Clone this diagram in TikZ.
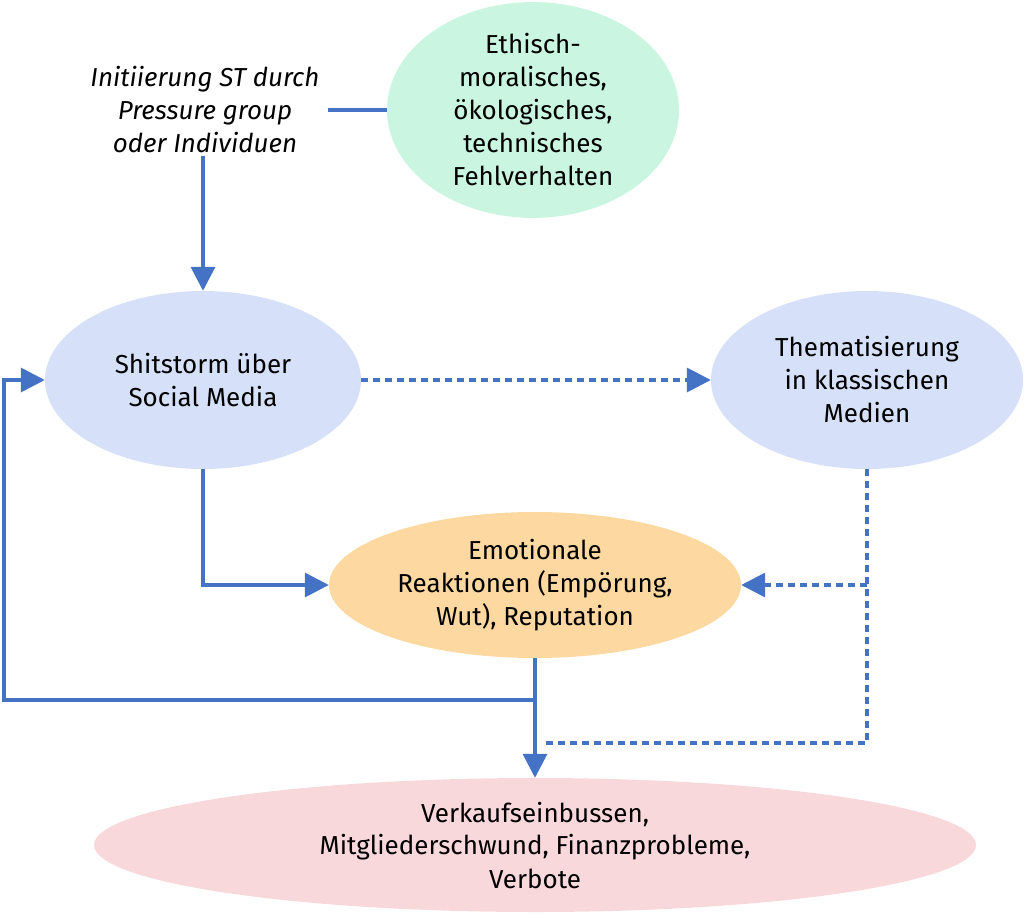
\documentclass[tikz,border=0pt]{standalone}
\usepackage{fontspec}
\setmainfont{Fira Sans}
\usetikzlibrary{shapes.geometric,arrows.meta}
\definecolor{linieblau}{HTML}{4472C4}
\definecolor{gruen}{HTML}{C9F5E1}
\definecolor{hellblau}{HTML}{D6E1F9}
\definecolor{orange}{HTML}{FDD8A0}
\definecolor{rosa}{HTML}{F9D8DB}
\tikzset{ %styles for the shitstorm chart
  blase/.style={ellipse,inner sep=0pt,align=center,
    font=\fontsize{26}{33}\selectfont},
  pfeil/.style={draw=linieblau,line width=3.5pt,
    -{Triangle[length=24pt,width=24pt]}},
  linie/.style={draw=linieblau,line width=3.5pt},
  gestrichelt/.style={dash pattern=on 7pt off 5pt}
}

\begin{document}
\begin{tikzpicture}[x=1pt,y=-1pt] % pixel coordinates, y downwards
\useasboundingbox (0,0) rectangle (1024,913);

\node[blase,fill=gruen,minimum width=292,minimum height=192] (ethik) at (533,110)
      {Ethisch-\\moralisches,\\ökologisches,\\technisches\\Fehlverhalten};
\node[align=center,font=\fontsize{26}{33}\selectfont\itshape,inner xsep=8pt,inner ysep=3pt] (init) at (205,110)
      {Initiierung ST durch\\Pressure group\\oder Individuen};
\node[blase,fill=hellblau,minimum width=316,minimum height=178] (shit) at (203,380)
      {Shitstorm über\\Social Media};
\node[blase,fill=hellblau,minimum width=312,minimum height=178] (them) at (867,380)
      {Thematisierung\\in klassischen\\Medien};
\node[blase,fill=orange,minimum width=412,minimum height=146] (emo) at (535,585)
      {Emotionale\\Reaktionen (Empörung,\\Wut), Reputation};
\node[blase,fill=rosa,minimum width=882,minimum height=134] (verk) at (535,845)
      {Verkaufseinbussen,\\Mitgliederschwund, Finanzprobleme,\\Verbote};

\coordinate (knoten) at (535,700);
\coordinate (rand) at (4,700);
\coordinate (ecke) at (867,743);

\draw[linie] (init.east) -- (ethik.west);
\draw[pfeil] (init.south -| shit.north) -- (shit.north);
\draw[pfeil] (shit.south) |- (emo.west);
\draw[pfeil,gestrichelt] (shit.east) -- (them.west);
\draw[linie,gestrichelt] (them.south) -- (ecke) -- ([xshift=6pt]emo.south |- ecke);
\draw[pfeil,gestrichelt] (them.south |- emo.east) -- (emo.east);
\draw[pfeil] (emo.south) -- (verk.north);
\draw[pfeil] (knoten) -- (rand) |- (shit.west);

\end{tikzpicture}
\end{document}
